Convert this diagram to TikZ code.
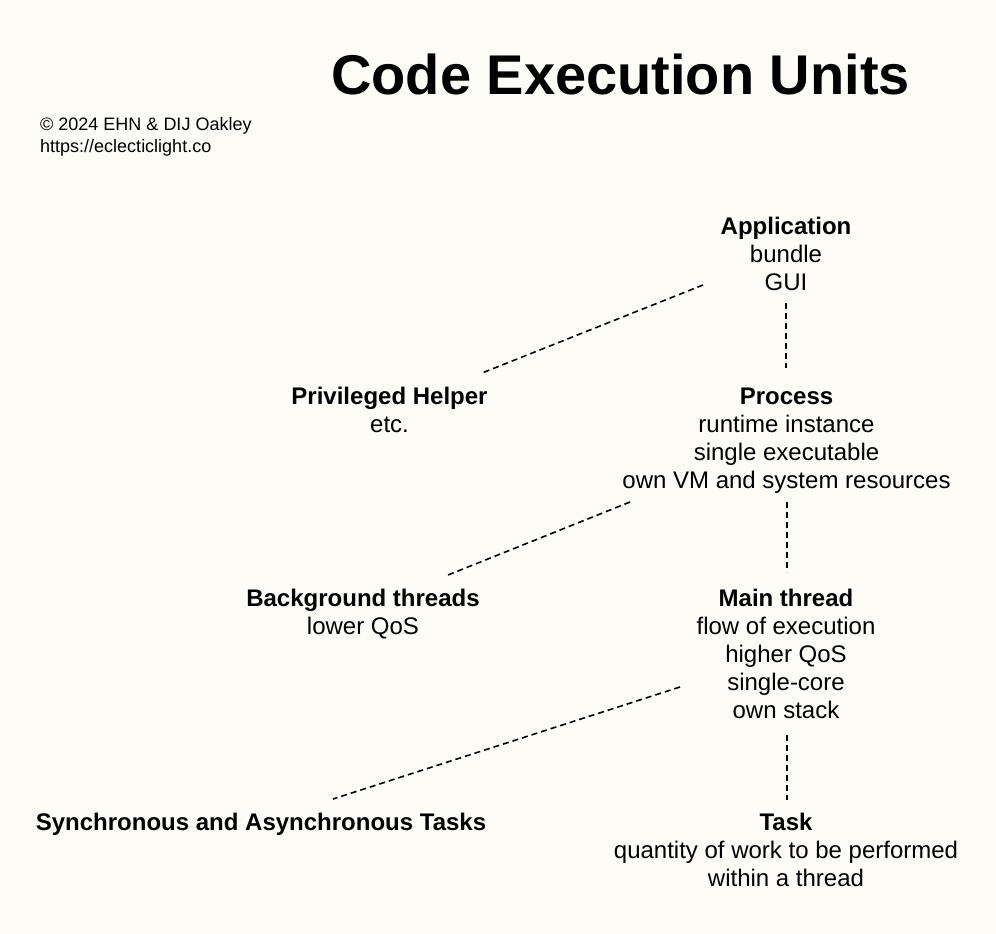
\documentclass[tikz,border=0pt]{standalone}
\usepackage{fontspec}
\setmainfont{Liberation Sans}
\definecolor{bgcol}{RGB}{253,252,246}
\begin{document}
\begin{tikzpicture}[x=1pt,y=-1pt,
  lbl/.style={anchor=north, align=center, inner sep=0pt, font=\fontsize{24}{28}\selectfont},
  link/.style={draw=black, line width=1.6pt, dash pattern=on 6pt off 4pt}]
\fill[bgcol] (0,0) rectangle (996,934);
\useasboundingbox (0,0) rectangle (996,934);

\node[anchor=base, inner sep=0pt, font=\fontsize{56}{60}\selectfont\bfseries] (title) at (620.5,95) {Code Execution Units};
\node[anchor=north west, align=left, inner sep=0pt, font=\fontsize{18}{22}\selectfont] (credit) at (40,114.6) {\strut © 2024 EHN \& DIJ Oakley\\https://eclecticlight.co};

\node[lbl] (app) at (786,214.4) {\strut\textbf{Application}\\bundle\\GUI};
\node[lbl] (helper) at (389.5,384.4) {\strut\textbf{Privileged Helper}\\etc.};
\node[lbl] (proc) at (786.5,384.4) {\strut\textbf{Process}\\runtime instance\\single executable\\own VM and system resources};
\node[lbl] (bgthr) at (363,586.4) {\strut\textbf{Background threads}\\lower QoS};
\node[lbl] (mainthr) at (786,586.4) {\strut\textbf{Main thread}\\flow of execution\\higher QoS\\single-core\\own stack};
\node[lbl] (sync) at (261,810.4) {\strut\textbf{Synchronous and Asynchronous Tasks}};
\node[lbl] (task) at (786,810.4) {\strut\textbf{Task}\\quantity of work to be performed\\within a thread};

\coordinate (c1a) at (703,285);
\coordinate (c1b) at (482,373);
\coordinate (v1a) at (786,303);
\coordinate (v1b) at (786,368);
\coordinate (c2a) at (630,502);
\coordinate (c2b) at (448,575);
\coordinate (v2a) at (787,502);
\coordinate (v2b) at (787,572);
\coordinate (c3a) at (680,687);
\coordinate (c3b) at (333,799);
\coordinate (v3a) at (787,735);
\coordinate (v3b) at (787,800);

\draw[link] (c1a) -- (c1b);
\draw[link] (v1a) -- (v1b);
\draw[link] (c2a) -- (c2b);
\draw[link] (v2a) -- (v2b);
\draw[link] (c3a) -- (c3b);
\draw[link] (v3a) -- (v3b);
\end{tikzpicture}
\end{document}
